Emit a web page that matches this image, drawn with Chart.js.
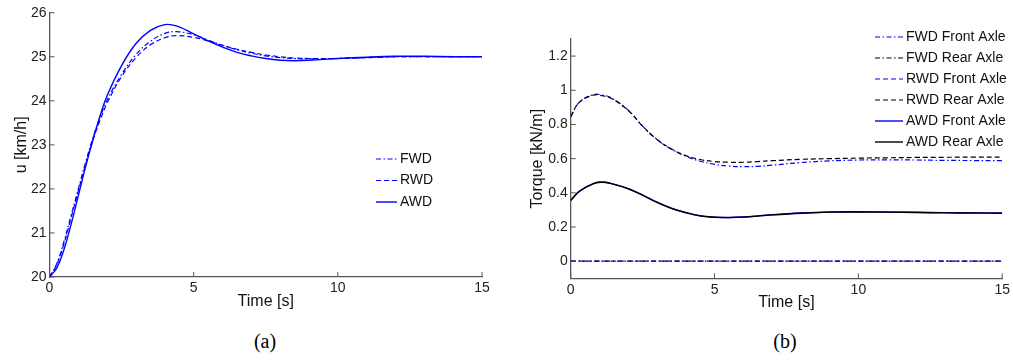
<!DOCTYPE html>
<html>
<head>
<meta charset="utf-8">
<script src="https://cdn.jsdelivr.net/npm/chart.js@4.4.1/dist/chart.umd.min.js"></script>
<style>
  body { margin: 0; background: #fff; width: 1013px; height: 360px; overflow: hidden; position: relative; }
  #wrapA { position: absolute; left: 0; top: 0; width: 506px; height: 320px; }
  #wrapB { position: absolute; left: 506px; top: 0; width: 507px; height: 320px; }
  .cap { position: absolute; top: 330px; width: 60px; text-align: center; line-height: 24px;
         font: 20px "Liberation Serif", "Times New Roman", serif; color: #000; }
</style>
</head>
<body>
<div id="wrapA"><canvas id="speedChart" width="506" height="320"></canvas></div>
<div id="wrapB"><canvas id="torqueChart" width="507" height="320"></canvas></div>
<div class="cap" style="left:235px">(a)</div>
<div class="cap" style="left:755px">(b)</div>
<script>
// (a) vehicle speed response
const speedTime = [0, 0.25, 0.5, 0.75, 1, 1.25, 1.5, 1.75, 2, 2.5, 3, 3.5, 4, 4.4, 5, 5.5, 6, 6.5, 7, 7.5, 8, 8.5, 9, 10, 11, 12, 13, 14, 15];
const fwdSpeed = [20, 20.3, 20.8, 21.4, 22.0, 22.6, 23.15, 23.62, 24.02, 24.6, 25.05, 25.35, 25.53, 25.57, 25.5, 25.38, 25.26, 25.16, 25.08, 25.02, 24.98, 24.96, 24.95, 24.96, 24.98, 25.0, 25.0, 25.0, 25.0];
const rwdSpeed = [20, 20.28, 20.75, 21.35, 21.95, 22.55, 23.1, 23.55, 23.95, 24.55, 24.98, 25.27, 25.43, 25.48, 25.44, 25.36, 25.26, 25.17, 25.1, 25.04, 25.0, 24.97, 24.96, 24.96, 24.98, 25.0, 25.0, 25.0, 25.0];
const awdSpeed = [20, 20.2, 20.62, 21.2, 21.85, 22.5, 23.1, 23.65, 24.12, 24.8, 25.3, 25.6, 25.73, 25.7, 25.52, 25.36, 25.22, 25.1, 25.02, 24.96, 24.92, 24.91, 24.92, 24.96, 24.99, 25.01, 25.01, 25.0, 25.0];
const speedTicks = [20, 21, 22, 23, 24, 25, 26];

// (b) axle torques
const torqueTime = [0, 0.3, 0.8, 1.1, 1.4, 2, 2.5, 3, 3.5, 4, 4.5, 5, 5.5, 6, 6.5, 7, 8, 9, 10, 11, 12, 13, 14, 15];
const fwdFrontTorque = [0.845, 0.93, 0.975, 0.972, 0.957, 0.884, 0.79, 0.712, 0.655, 0.615, 0.585, 0.567, 0.557, 0.553, 0.555, 0.562, 0.577, 0.587, 0.592, 0.593, 0.592, 0.59, 0.589, 0.589];
const rwdRearTorque = [0.845, 0.93, 0.972, 0.968, 0.953, 0.882, 0.79, 0.712, 0.657, 0.618, 0.595, 0.583, 0.579, 0.579, 0.583, 0.588, 0.596, 0.6, 0.603, 0.605, 0.607, 0.608, 0.609, 0.609];
const awdFrontTorque = [0.357, 0.41, 0.455, 0.463, 0.455, 0.425, 0.387, 0.345, 0.31, 0.285, 0.266, 0.258, 0.256, 0.259, 0.265, 0.272, 0.282, 0.288, 0.289, 0.288, 0.286, 0.284, 0.283, 0.282];
const awdRearTorque = [0.355, 0.408, 0.454, 0.462, 0.454, 0.424, 0.386, 0.344, 0.309, 0.284, 0.265, 0.257, 0.255, 0.258, 0.264, 0.271, 0.281, 0.287, 0.288, 0.287, 0.285, 0.283, 0.282, 0.281];
const zeroTime = [0, 15];
const fwdRearTorque = [0, 0];
const rwdFrontTorque = [0, 0];
const torqueTicks = [0, 0.2, 0.4, 0.6, 0.8, 1, 1.2];
const torqueTickLabels = ['0', '0.2', '0.4', '0.6', '0.8', '1', '1.2'];
const timeTicks = [0, 5, 10, 15];

const FONT = '"Liberation Sans", Arial, Helvetica, sans-serif';
const DASH_DOT = [5, 2.5, 1.5, 2.5];
const DASHED = [5, 3];
const BLUE = '#0000ff';
const BLACK = '#000000';
const AXIS = '#555555';

function pts(xs, ys) {
    return xs.map((x, i) => ({ x: x, y: ys[i] }));
}

// order: lower number is painted on top
function line(label, xs, ys, color, dash, width, order) {
    return {
        label: label,
        data: pts(xs, ys),
        borderColor: color,
        borderDash: dash,
        borderWidth: width,
        pointRadius: 0,
        fill: false,
        tension: 0.4,
        order: order
    };
}

// MATLAB style ticks pointing into the plot
const inwardTicks = {
    id: 'inwardTicks',
    afterDatasetsDraw(chart) {
        const { ctx, chartArea, scales } = chart;
        ctx.save();
        ctx.setLineDash([]);
        ctx.strokeStyle = AXIS;
        ctx.lineWidth = 1;
        scales.x.ticks.forEach(t => {
            const px = scales.x.getPixelForValue(t.value);
            ctx.beginPath();
            ctx.moveTo(px, chartArea.bottom);
            ctx.lineTo(px, chartArea.bottom - 5);
            ctx.stroke();
        });
        scales.y.ticks.forEach(t => {
            const py = scales.y.getPixelForValue(t.value);
            ctx.beginPath();
            ctx.moveTo(chartArea.left, py);
            ctx.lineTo(chartArea.left + 5, py);
            ctx.stroke();
        });
        ctx.restore();
    }
};

// legend drawn with the datasets' own line styles
const lineLegend = {
    id: 'lineLegend',
    afterDraw(chart, args, opts) {
        const ctx = chart.ctx;
        ctx.save();
        ctx.font = opts.fontSize + 'px ' + FONT;
        ctx.fillStyle = '#111';
        ctx.textBaseline = 'middle';
        ctx.textAlign = 'left';
        chart.data.datasets.forEach((ds, row) => {
            const y = opts.y + row * opts.rowH;
            ctx.strokeStyle = ds.borderColor;
            ctx.lineWidth = ds.borderWidth;
            ctx.setLineDash(ds.borderDash || []);
            ctx.beginPath();
            ctx.moveTo(opts.x, y);
            ctx.lineTo(opts.x + opts.len, y);
            ctx.stroke();
            ctx.setLineDash([]);
            ctx.fillText(ds.label, opts.x + opts.len + 3, y);
        });
        ctx.restore();
    }
};

function axisOptions(min, max, title, fixedTicks, labels, tickSize, titlePad, fitSize, horizontal) {
    return {
        type: 'linear',
        min: min,
        max: max,
        grid: { display: false, drawTicks: false },
        border: { display: true, color: AXIS, width: 1.3 },
        ticks: {
            color: '#222',
            font: { family: FONT, size: tickSize },
            padding: 3,
            autoSkip: false,
            maxRotation: 0,
            callback: function (v) {
                const i = fixedTicks.indexOf(v);
                return i >= 0 ? labels[i] : '';
            }
        },
        title: {
            display: true,
            text: title,
            color: '#111',
            font: { family: FONT, size: 16 },
            padding: titlePad
        },
        afterBuildTicks: function (scale) {
            scale.ticks = fixedTicks.map(v => ({ value: v }));
        },
        afterFit: function (scale) {
            if (horizontal) scale.height = fitSize; else scale.width = fitSize;
        }
    };
}

Chart.defaults.font.family = FONT;

// ---- chart (a)
new Chart(document.getElementById('speedChart'), {
    type: 'line',
    data: {
        datasets: [
            line('FWD', speedTime, fwdSpeed, BLUE, DASH_DOT, 1.2, 2),
            line('RWD', speedTime, rwdSpeed, BLUE, DASHED, 1.2, 1),
            line('AWD', speedTime, awdSpeed, BLUE, [], 1.4, 0)
        ]
    },
    options: {
        responsive: false,
        animation: false,
        devicePixelRatio: 1,
        layout: { padding: { left: 0, top: 12.7, right: 24, bottom: 0 } },
        scales: {
            x: axisOptions(0, 15, 'Time [s]', timeTicks, timeTicks.map(String), 14, { top: 0, bottom: 8.4 }, 43, true),
            y: axisOptions(20, 26, 'u [km/h]', speedTicks, speedTicks.map(String), 14, { top: 12, bottom: 0 }, 49.5, false)
        },
        plugins: {
            legend: { display: false },
            tooltip: { enabled: false },
            lineLegend: { x: 376, y: 159, rowH: 21.5, len: 21, fontSize: 14 }
        }
    },
    plugins: [inwardTicks, lineLegend]
});

// ---- chart (b)
new Chart(document.getElementById('torqueChart'), {
    type: 'line',
    data: {
        datasets: [
            line('FWD Front Axle', torqueTime, fwdFrontTorque, BLUE, DASH_DOT, 1.2, 4),
            line('FWD Rear Axle', zeroTime, fwdRearTorque, BLACK, DASH_DOT, 1.2, 5),
            line('RWD Front Axle', zeroTime, rwdFrontTorque, BLUE, DASHED, 1.2, 2),
            line('RWD Rear Axle', torqueTime, rwdRearTorque, BLACK, DASHED, 1.2, 3),
            line('AWD Front Axle', torqueTime, awdFrontTorque, BLUE, [], 1.4, 1),
            line('AWD Rear Axle', torqueTime, awdRearTorque, BLACK, [], 1.4, 0)
        ]
    },
    options: {
        responsive: false,
        animation: false,
        devicePixelRatio: 1,
        layout: { padding: { left: 0, top: 39, right: 10.3, bottom: 0 } },
        scales: {
            x: axisOptions(0, 15, 'Time [s]', timeTicks, timeTicks.map(String), 14, { top: 0, bottom: 7.4 }, 41.7, true),
            y: axisOptions(-0.1, 1.3, 'Torque [kN/m]', torqueTicks, torqueTickLabels, 14, { top: 22.4, bottom: 0 }, 64.7, false)
        },
        plugins: {
            legend: { display: false },
            tooltip: { enabled: false },
            lineLegend: { x: 369, y: 37, rowH: 21, len: 28, fontSize: 14 }
        }
    },
    plugins: [inwardTicks, lineLegend]
});
</script>
</body>
</html>
